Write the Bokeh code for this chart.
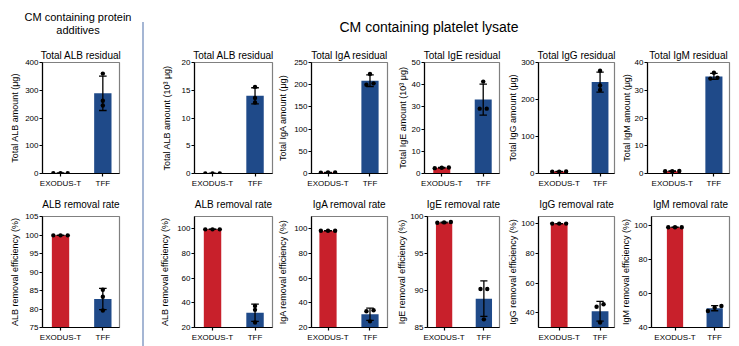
import numpy as np
from bokeh.plotting import figure
from bokeh.layouts import row, column
from bokeh.models import Range1d, FixedTicker, Spacer, Div, Title
from bokeh.embed import file_html
from bokeh.resources import INLINE

categories = ["EXODUS-T", "TFF"]

# ---------------- CM containing protein additives (ALB) ----------------
alb_pa_res_exodus = [1.0, 1.3, 0.9]
alb_pa_res_tff = [360, 262, 245]
alb_pa_res_mean = [1.1, 289]
alb_pa_res_sd = [0.2, 62]

alb_pa_rate_exodus = [99.9, 99.9, 99.9]
alb_pa_rate_tff = [85.2, 83.3, 79.6]
alb_pa_rate_mean = [99.9, 82.7]
alb_pa_rate_sd = [0.02, 2.85]

# ---------------- CM containing platelet lysate ----------------
alb_pl_res_exodus = [0.02, 0.02, 0.02]
alb_pl_res_tff = [15.6, 13.6, 12.8]
alb_pl_res_mean = [0.02, 14.0]
alb_pl_res_sd = [0.0, 1.45]

iga_res_exodus = [2.0, 2.3, 2.1]
iga_res_tff = [224, 203, 200]
iga_res_mean = [2.1, 209]
iga_res_sd = [0.15, 13]

ige_res_exodus = [2.4, 2.6, 2.7]
ige_res_tff = [41.4, 29.2, 29.2]
ige_res_mean = [2.6, 33.3]
ige_res_sd = [0.15, 7.0]

igg_res_exodus = [5.0, 5.5, 5.2]
igg_res_tff = [278, 238, 226]
igg_res_mean = [5.2, 247]
igg_res_sd = [0.3, 27]

igm_res_exodus = [0.8, 0.9, 0.8]
igm_res_tff = [36.3, 34.5, 34.2]
igm_res_mean = [0.85, 35.0]
igm_res_sd = [0.05, 1.1]

alb_pl_rate_exodus = [99.6, 99.6, 99.6]
alb_pl_rate_tff = [37.5, 34.3, 24.0]
alb_pl_rate_mean = [99.6, 31.9]
alb_pl_rate_sd = [0.05, 7.0]

iga_rate_exodus = [98.5, 98.5, 98.5]
iga_rate_tff = [34.0, 33.2, 25.0]
iga_rate_mean = [98.5, 30.7]
iga_rate_sd = [0.05, 5.0]

ige_rate_exodus = [99.2, 99.25, 99.15]
ige_rate_tff = [90.2, 90.2, 86.1]
ige_rate_mean = [99.2, 88.9]
ige_rate_sd = [0.05, 2.4]

igg_rate_exodus = [100.2, 100.2, 100.2]
igg_rate_tff = [45.7, 44.0, 33.4]
igg_rate_mean = [100.2, 41.0]
igg_rate_sd = [0.05, 6.7]

igm_rate_exodus = [98.7, 98.7, 98.7]
igm_rate_tff = [52.6, 51.6, 49.7]
igm_rate_mean = [98.7, 51.3]
igm_rate_sd = [0.05, 1.5]

# axis scales / ticks
yr_alb_pa_res, yt_alb_pa_res = (0, 400), [0, 100, 200, 300, 400]
yr_alb_pa_rate, yt_alb_pa_rate = (75, 105), [75, 80, 85, 90, 95, 100, 105]
yr_alb_pl_res, yt_alb_pl_res = (0, 20), [0, 5, 10, 15, 20]
yr_iga_res, yt_iga_res = (0, 250), [0, 50, 100, 150, 200, 250]
yr_ige_res, yt_ige_res = (0, 50), [0, 10, 20, 30, 40, 50]
yr_igg_res, yt_igg_res = (0, 300), [0, 100, 200, 300]
yr_igm_res, yt_igm_res = (0, 40), [0, 10, 20, 30, 40]
yr_alb_pl_rate, yt_alb_pl_rate = (20, 110), [20, 40, 60, 80, 100]
yr_iga_rate, yt_iga_rate = (20, 110), [20, 40, 60, 80, 100]
yr_ige_rate, yt_ige_rate = (85, 100), [85, 90, 95, 100]
yr_igg_rate, yt_igg_rate = (30, 105), [40, 60, 80, 100]
yr_igm_rate, yt_igm_rate = (40, 105), [40, 60, 80, 100]

RED = "#c8202b"
BLUE = "#1f4a89"
SEP = "#a5b6d4"
FONT = "Liberation Sans"


def spread(vals, span, thr=0.033, step=0.17):
    vals = np.asarray(vals, dtype=float)
    order = np.argsort(vals, kind="stable")
    clusters, cur = [], [order[0]]
    for a, b in zip(order[:-1], order[1:]):
        if (vals[b] - vals[a]) / span < thr:
            cur.append(b)
        else:
            clusters.append(cur)
            cur = [b]
    clusters.append(cur)
    offs = np.zeros(len(vals))
    for c in clusters:
        n = len(c)
        for i, idx in enumerate(c):
            offs[idx] = (i - (n - 1) / 2) * step
    return offs


def panel(title, ylabel, means, sds, dots_ex, dots_tff, yr, yt, geom):
    w, h, bl, br, bt, bb, xs, xe, als, pad = geom
    p = figure(width=w, height=h, x_range=Range1d(xs, xe), y_range=Range1d(*yr),
               output_backend="svg", toolbar_location=None,
               min_border_left=bl, min_border_right=br, min_border_top=bt,
               min_border_bottom=bb)
    if pad:
        p.add_layout(Title(text=" ", text_font_size="%dpx" % pad, standoff=0), "above")
    p.add_layout(Title(text=title, text_font=FONT, text_font_size="10px",
                       text_font_style="normal", text_color="black", align="center",
                       standoff=4), "above")
    p.grid.visible = False
    p.outline_line_color = "#808080"
    p.outline_line_width = 1.2
    p.background_fill_color = "white"
    p.border_fill_color = "white"
    xs_idx = np.arange(len(categories))
    means = np.asarray(means, float)
    sds = np.asarray(sds, float)
    p.vbar(x=xs_idx, top=means, bottom=0, width=0.41,
           fill_color=[RED, BLUE], line_color=None)
    lo, hi = means - sds, means + sds
    p.segment(x0=xs_idx, y0=lo, x1=xs_idx, y1=hi, line_color="black", line_width=1.3)
    cw = 0.09
    p.segment(x0=xs_idx - cw, y0=hi, x1=xs_idx + cw, y1=hi, line_color="black", line_width=1.3)
    p.segment(x0=xs_idx - cw, y0=lo, x1=xs_idx + cw, y1=lo, line_color="black", line_width=1.3)
    span = yr[1] - yr[0]
    for i, d in enumerate([dots_ex, dots_tff]):
        offs = spread(d, span)
        p.scatter(x=i + offs, y=d, size=4.4, fill_color="black", line_color=None, marker="circle")
    # y axis
    ya = p.yaxis[0]
    ya.ticker = FixedTicker(ticks=yt)
    ya.axis_label = ylabel
    ya.axis_label_text_font = FONT
    ya.axis_label_text_font_size = "9px"
    ya.axis_label_text_font_style = "normal"
    ya.axis_label_text_color = "black"
    ya.axis_label_standoff = als
    ya.major_label_text_font = FONT
    ya.major_label_text_font_size = "8px"
    ya.major_label_text_color = "black"
    ya.major_label_standoff = 1
    ya.major_tick_in = 0
    ya.major_tick_out = 3
    ya.minor_tick_line_color = None
    ya.axis_line_color = "black"
    ya.axis_line_width = 1.2
    ya.major_tick_line_width = 1.2
    # x axis
    xa = p.xaxis[0]
    xa.ticker = FixedTicker(ticks=list(range(len(categories))))
    xa.major_label_overrides = {i: c for i, c in enumerate(categories)}
    xa.major_label_text_font = FONT
    xa.major_label_text_font_size = "8px"
    xa.major_label_text_color = "black"
    xa.major_label_standoff = 2
    xa.major_tick_in = 0
    xa.major_tick_out = 3
    xa.minor_tick_line_color = None
    xa.axis_line_color = "black"
    xa.axis_line_width = 1.2
    xa.major_tick_line_width = 1.2
    return p


TOP_H, BOT_H = 150, 156
# geometry: width, height, border L, R, T, B, x_start, x_end, axis-label standoff, title pad
p1t = panel("Total ALB residual", "Total ALB amount (μg)", alb_pa_res_mean, alb_pa_res_sd,
            alb_pa_res_exodus, alb_pa_res_tff, yr_alb_pa_res, yt_alb_pa_res,
            (142, TOP_H, 42, 23, 22, 16, -0.426, 1.394, 2, 0))
p1b = panel("ALB removal rate", "ALB removal efficiency (%)", alb_pa_rate_mean, alb_pa_rate_sd,
            alb_pa_rate_exodus, alb_pa_rate_tff, yr_alb_pa_rate, yt_alb_pa_rate,
            (142, BOT_H, 42, 23, 26, 19, -0.426, 1.394, 2, 3))

p2t = panel("Total ALB residual", "Total ALB amount (10³ μg)", alb_pl_res_mean, alb_pl_res_sd,
            alb_pl_res_exodus, alb_pl_res_tff, yr_alb_pl_res, yt_alb_pl_res,
            (131, TOP_H, 50, 3, 22, 16, -0.424, 1.411, 7, 0))
p2b = panel("ALB removal rate", "ALB removal efficiency (%)", alb_pl_rate_mean, alb_pl_rate_sd,
            alb_pl_rate_exodus, alb_pl_rate_tff, yr_alb_pl_rate, yt_alb_pl_rate,
            (131, BOT_H, 50, 3, 26, 19, -0.424, 1.411, 4, 3))

p3t = panel("Total IgA residual", "Total IgA amount (μg)", iga_res_mean, iga_res_sd,
            iga_res_exodus, iga_res_tff, yr_iga_res, yt_iga_res,
            (119, TOP_H, 36, 7, 22, 16, -0.393, 1.417, 3, 0))
p3b = panel("IgA removal rate", "IgA removal efficiency (%)", iga_rate_mean, iga_rate_sd,
            iga_rate_exodus, iga_rate_tff, yr_iga_rate, yt_iga_rate,
            (119, BOT_H, 36, 7, 26, 19, -0.393, 1.417, 3, 3))

p4t = panel("Total IgE residual", "Total IgE amount (10³ μg)", ige_res_mean, ige_res_sd,
            ige_res_exodus, ige_res_tff, yr_ige_res, yt_ige_res,
            (111, TOP_H, 29, 6, 22, 16, -0.417, 1.393, 1, 0))
p4b = panel("IgE removal rate", "IgE removal efficiency (%)", ige_rate_mean, ige_rate_sd,
            ige_rate_exodus, ige_rate_tff, yr_ige_rate, yt_ige_rate,
            (111, BOT_H, 29, 6, 26, 19, -0.417, 1.393, 0, 3))

p5t = panel("Total IgG residual", "Total IgG amount (μg)", igg_res_mean, igg_res_sd,
            igg_res_exodus, igg_res_tff, yr_igg_res, yt_igg_res,
            (113, TOP_H, 30, 4, 22, 16, -0.506, 1.353, 0, 0))
p5b = panel("IgG removal rate", "IgG removal efficiency (%)", igg_rate_mean, igg_rate_sd,
            igg_rate_exodus, igg_rate_tff, yr_igg_rate, yt_igg_rate,
            (113, BOT_H, 30, 4, 26, 19, -0.506, 1.353, 0, 3))

p6t = panel("Total IgM residual", "Total IgM amount (μg)", igm_res_mean, igm_res_sd,
            igm_res_exodus, igm_res_tff, yr_igm_res, yt_igm_res,
            (121, TOP_H, 27, 10, 22, 16, -0.593, 1.374, 0, 0))
p6b = panel("IgM removal rate", "IgM removal efficiency (%)", igm_rate_mean, igm_rate_sd,
            igm_rate_exodus, igm_rate_tff, yr_igm_rate, yt_igm_rate,
            (121, BOT_H, 27, 10, 26, 19, -0.593, 1.374, 0, 3))


def header(w, h, html, size, pad_top, line_h, center_w):
    inner = ('<div style="width:%dpx;text-align:center;font-family:\'Liberation Sans\';'
             'font-size:%dpx;line-height:%dpx;padding-top:%dpx;color:#000;white-space:nowrap">%s</div>'
             % (center_w, size, line_h, pad_top, html))
    return Div(text=inner, width=w, height=h, margin=0)


hdr_left = header(142, 40, "CM containing protein<br>additives", 11, 11, 13, 156)
hdr_right = header(595, 40, "CM containing platelet lysate", 14, 20, 14, 570)

left_block = column(hdr_left, p1t, p1b)
sep_block = column(Spacer(width=2, height=22),
                   Spacer(width=2, height=324, styles={"background-color": SEP}))
right_block = column(hdr_right, row(p2t, p3t, p4t, p5t, p6t), row(p2b, p3b, p4b, p5b, p6b))
layout = row(left_block, sep_block, right_block)

open("out.html", "w").write(file_html(layout, INLINE))
